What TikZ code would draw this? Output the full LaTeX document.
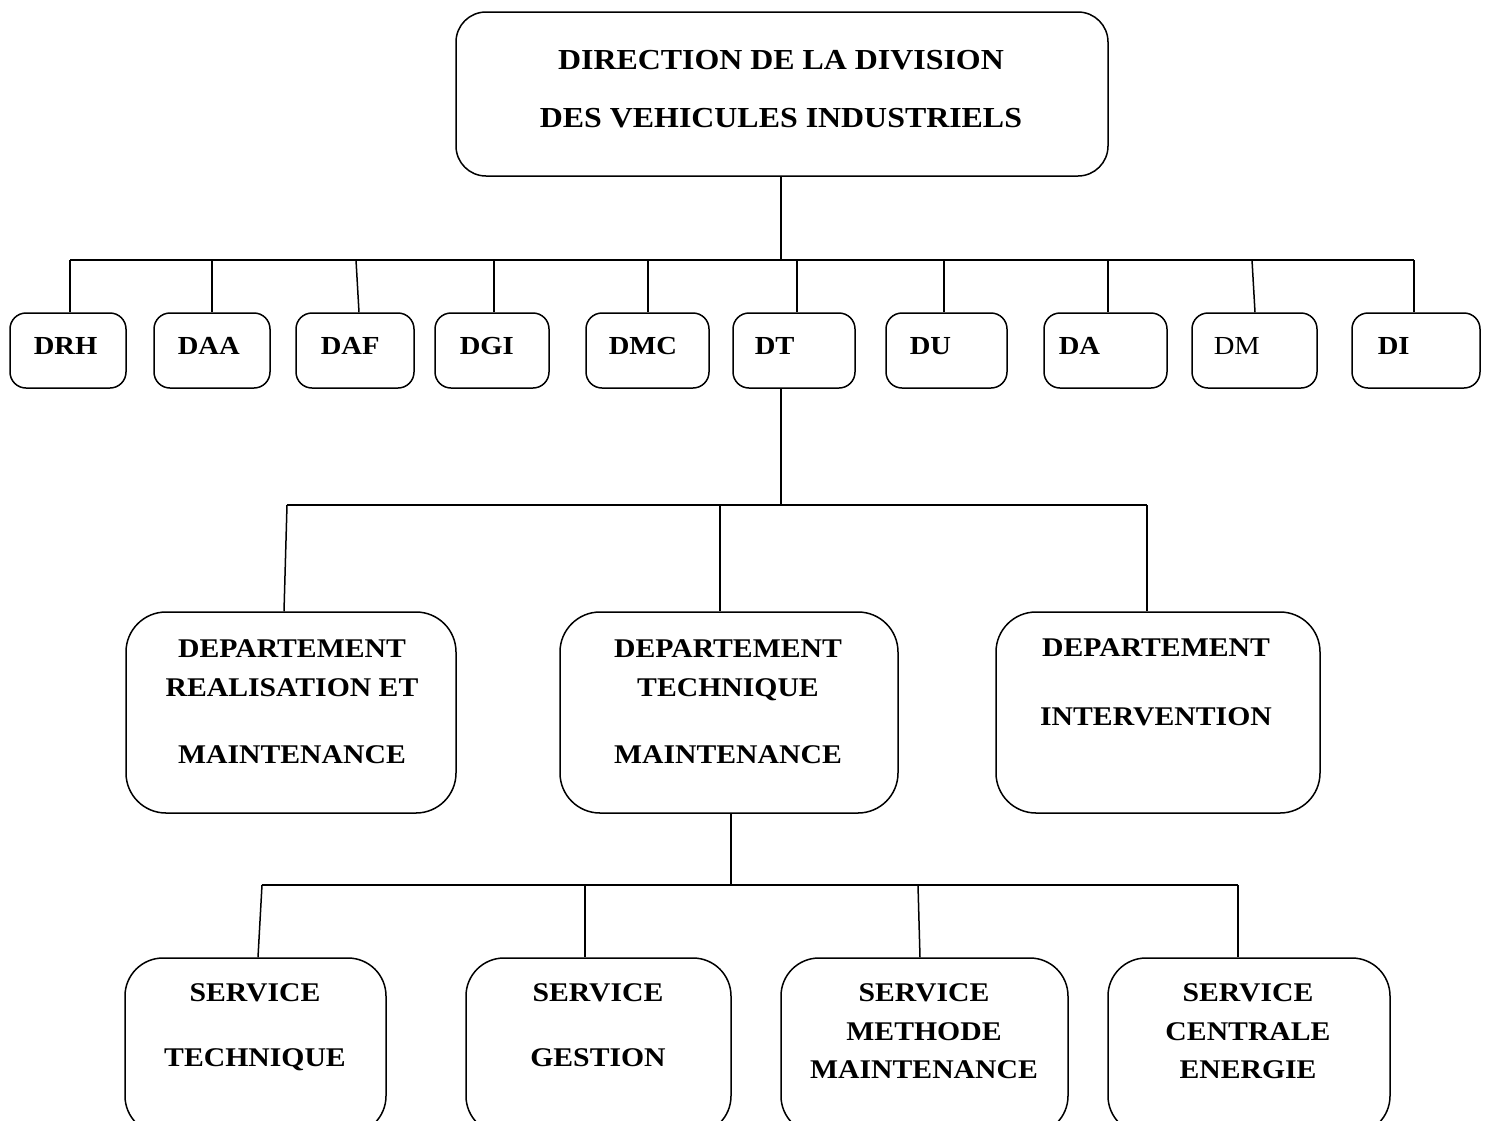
\documentclass[tikz,border=0pt]{standalone}
\usepackage{fontspec}
\setmainfont{Liberation Serif}[FakeStretch=1.1]
\begin{document}
\begin{tikzpicture}[x=1pt,y=-1pt,line width=1.5pt,
  box/.style={draw,rectangle,inner sep=0pt},
  small/.style={box,rounded corners=16pt,minimum height=75pt},
  dept/.style={box,rounded corners=40pt,minimum height=201pt},
  svc/.style={box,rounded corners=38pt,minimum height=176pt},
  txt/.style={font=\bfseries\fontsize{27}{39}\selectfont,align=center,inner sep=0pt,anchor=north},
  code/.style={font=\bfseries\fontsize{26}{30}\selectfont,inner sep=0pt,anchor=north west},
  plain/.style={font=\fontsize{26}{30}\selectfont,inner sep=0pt,anchor=north west}]
\useasboundingbox (0,0) rectangle (1489,1120);
\clip (0,0) rectangle (1489,1120);

% direction
\node[box,rounded corners=30pt,minimum width=652pt,minimum height=164pt] (top) at (782,94) {};
\node[txt,font=\bfseries\fontsize{29}{58}\selectfont] (ttop) at (781,50)
  {DIRECTION DE LA DIVISION\\DES VEHICULES INDUSTRIELS};

% directions
\node[small,minimum width=116pt] (DRH) at (68,350.5) {};
\node[small,minimum width=116pt] (DAA) at (212,350.5) {};
\node[small,minimum width=118pt] (DAF) at (355,350.5) {};
\node[small,minimum width=114pt] (DGI) at (492,350.5) {};
\node[small,minimum width=123pt] (DMC) at (647.5,350.5) {};
\node[small,minimum width=122pt] (DT) at (794,350.5) {};
\node[small,minimum width=121pt] (DU) at (946.5,350.5) {};
\node[small,minimum width=123pt] (DA) at (1105.5,350.5) {};
\node[small,minimum width=125pt] (DM) at (1254.5,350.5) {};
\node[small,minimum width=128pt] (DI) at (1416,350.5) {};

\node[code] (tDRH) at (33,337) {DRH};
\node[code] (tDAA) at (177,337) {DAA};
\node[code] (tDAF) at (320,337) {DAF};
\node[code] (tDGI) at (459,337) {DGI};
\node[code] (tDMC) at (608,337) {DMC};
\node[code] (tDT) at (754,337) {DT};
\node[code] (tDU) at (909,337) {DU};
\node[code] (tDA) at (1058,337) {DA};
\node[plain] (tDM) at (1213,337) {DM};
\node[code] (tDI) at (1377,337) {DI};

% departments
\node[dept,minimum width=330pt] (DRM) at (291,712.5) {};
\node[dept,minimum width=338pt] (DTM) at (729,712.5) {};
\node[dept,minimum width=324pt] (DIN) at (1158,712.5) {};

\node[txt] (tDRM) at (292,639) {DEPARTEMENT\\REALISATION ET\\[28pt]MAINTENANCE};
\node[txt] (tDTM) at (728,639) {DEPARTEMENT\\TECHNIQUE\\[28pt]MAINTENANCE};
\node[txt] (tDIN) at (1156,638) {DEPARTEMENT\\[30pt]INTERVENTION};

% services
\node[svc,minimum width=261pt] (ST) at (255.5,1046) {};
\node[svc,minimum width=265pt] (SG) at (598.5,1046) {};
\node[svc,minimum width=287pt] (SM) at (924.5,1046) {};
\node[svc,minimum width=282pt] (SC) at (1249,1046) {};

\node[txt] (tST) at (255,983) {SERVICE\\[26pt]TECHNIQUE};
\node[txt] (tSG) at (598,983) {SERVICE\\[26pt]GESTION};
\node[txt,font=\bfseries\fontsize{27}{38.5}\selectfont] (tSM) at (924,983) {SERVICE\\METHODE\\MAINTENANCE};
\node[txt,font=\bfseries\fontsize{27}{38.5}\selectfont] (tSC) at (1248,983) {SERVICE\\CENTRALE\\ENERGIE};

% first level links
\coordinate (hub1) at (781,260);
\coordinate (b1L) at (70,260);
\coordinate (b1R) at (1414,260);
\draw (top.south -| hub1) -- (hub1);
\draw (b1L) -- (b1R);
\coordinate (dDRH) at (70,260);
\coordinate (dDAA) at (212,260);
\coordinate (dDAF) at (356,260);
\coordinate (dDGI) at (494,260);
\coordinate (dDMC) at (648,260);
\coordinate (dDT) at (797,260);
\coordinate (dDU) at (944,260);
\coordinate (dDA) at (1108,260);
\coordinate (dDM) at (1252,260);
\coordinate (dDI) at (1414,260);
\draw (dDRH) -- (dDRH |- DRH.north);
\draw (dDAA) -- (dDAA |- DAA.north);
\draw (dDAF) -- ([xshift=3pt]dDAF |- DAF.north);
\draw (dDGI) -- (dDGI |- DGI.north);
\draw (dDMC) -- (dDMC |- DMC.north);
\draw (dDT) -- (dDT |- DT.north);
\draw (dDU) -- (dDU |- DU.north);
\draw (dDA) -- (dDA |- DA.north);
\draw (dDM) -- ([xshift=3pt]dDM |- DM.north);
\draw (dDI) -- (dDI |- DI.north);

% second level links
\coordinate (hub2) at (781,505);
\coordinate (b2L) at (287,505);
\coordinate (b2M) at (720,505);
\coordinate (b2R) at (1147,505);
\draw (hub2 |- DT.south) -- (hub2);
\draw (b2L) -- (b2R);
\draw (b2L) -- ([xshift=-3pt]b2L |- DRM.north);
\draw (b2M) -- (b2M |- DTM.north);
\draw (b2R) -- (b2R |- DIN.north);

% third level links
\coordinate (hub3) at (731,885);
\coordinate (b3A) at (262,885);
\coordinate (b3B) at (585,885);
\coordinate (b3C) at (918,885);
\coordinate (b3D) at (1238,885);
\draw (hub3 |- DTM.south) -- (hub3);
\draw (b3A) -- (b3D);
\draw (b3A) -- ([xshift=-4pt]b3A |- ST.north);
\draw (b3B) -- (b3B |- SG.north);
\draw (b3C) -- ([xshift=2pt]b3C |- SM.north);
\draw (b3D) -- (b3D |- SC.north);
\end{tikzpicture}
\end{document}
